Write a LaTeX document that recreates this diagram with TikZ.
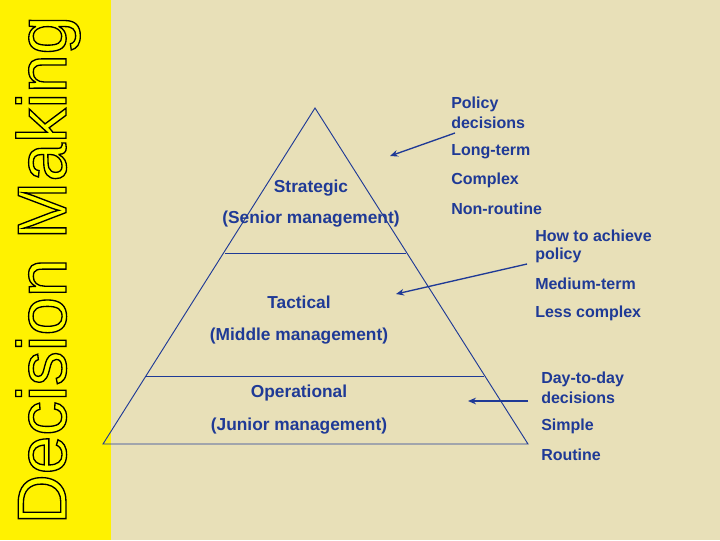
\documentclass[tikz,border=0pt]{standalone}
\usepackage{fontspec}
\setmainfont{Liberation Sans}
\usetikzlibrary{arrows.meta}
\definecolor{bg}{HTML}{E8E0B8}
\definecolor{bl}{HTML}{1F3A96}
\begin{document}
\begin{tikzpicture}[x=0.75pt,y=-0.75pt,
  lvl/.style={text=bl,font=\bfseries\fontsize{13}{15}\selectfont},
  lab/.style={text=bl,font=\bfseries\fontsize{12}{14}\selectfont,anchor=west,inner sep=0},
  ln/.style={draw=bl,line width=0.7pt},
  arr/.style={draw=bl,line width=1pt,-{Stealth[length=6pt,width=5pt]}}]
\useasboundingbox (0,0) rectangle (720,540);
\fill[bg] (0,0) rectangle (720,540);
\fill[yellow] (0,0) rectangle (111,540);
\node[rotate=90,inner sep=0] (title) at (48,270) {\fontsize{52}{60}\selectfont\special{pdf:code q 2 Tr 1 w 1 1 0 rg 0 0 0 RG}Decision Making\special{pdf:code Q}};
\coordinate (apex) at (315,108);
\coordinate (bl) at (103,444);
\coordinate (br) at (528,444);
\draw[ln] (apex) -- (br) -- (bl) -- cycle;
\draw[ln] (225,253) -- (406,253);
\draw[ln] (146,376) -- (484,376);
\node[lvl] (s1) at (311,188) {Strategic};
\node[lvl] (s2) at (311,219) {(Senior management)};
\node[lvl] (t1) at (299,302) {Tactical};
\node[lvl] (t2) at (299,336) {(Middle management)};
\node[lvl] (o1) at (299,393) {Operational};
\node[lvl] (o2) at (299,426) {(Junior management)};
\node[lab] (a1) at (451,104) {Policy};
\node[lab] (a2) at (451,123) {decisions};
\node[lab] (a3) at (451,152) {Long-term};
\node[lab] (a4) at (451,180) {Complex};
\node[lab] (a5) at (451,209) {Non-routine};
\node[lab] (b1) at (535,236) {How to achieve};
\node[lab] (b2) at (535,255) {policy};
\node[lab] (b3) at (535,284) {Medium-term};
\node[lab] (b4) at (535,313) {Less complex};
\node[lab] (c1) at (541,379) {Day-to-day};
\node[lab] (c2) at (541,398) {decisions};
\node[lab] (c3) at (541,426) {Simple};
\node[lab] (c4) at (541,455) {Routine};
\coordinate (e1) at (390,156);
\coordinate (e2) at (396,294);
\coordinate (e3) at (468,401);
\draw[arr] (455,133) -- (e1);
\draw[arr] (527,264) -- (e2);
\draw[arr] (528,401) -- (e3);
\end{tikzpicture}
\end{document}
